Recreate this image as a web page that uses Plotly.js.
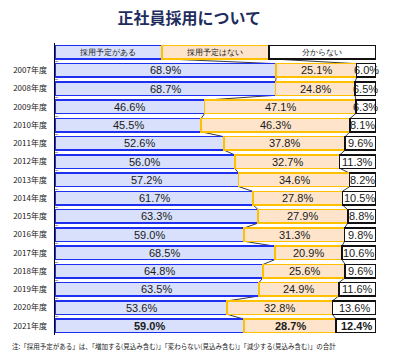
<!DOCTYPE html>
<html><head><meta charset="utf-8">
<script src="https://cdn.plot.ly/plotly-3.0.1.min.js"></script>
<style>html,body{margin:0;padding:0;background:#fff}</style>
</head><body><div id="chart" style="width:396px;height:359px"></div>
<script>
const categories = ['凡例','2007年度','2008年度','2009年度','2010年度','2011年度','2012年度','2013年度','2014年度','2015年度','2016年度','2017年度','2018年度','2019年度','2020年度','2021年度'];
const tickLabels = ['','2007年度','2008年度','2009年度','2010年度','2011年度','2012年度','2013年度','2014年度','2015年度','2016年度','2017年度','2018年度','2019年度','2020年度','2021年度'];
const seriesNames = ['採用予定がある','採用予定はない','分からない'];
const planned    = [33.33, 68.9, 68.7, 46.6, 45.5, 52.6, 56.0, 57.2, 61.7, 63.3, 59.0, 68.5, 64.8, 63.5, 53.6, 59.0];
const notPlanned = [33.33, 25.1, 24.8, 47.1, 46.3, 37.8, 32.7, 34.6, 27.8, 27.9, 31.3, 20.9, 25.6, 24.9, 32.8, 28.7];
const unknown    = [33.34, 6.0, 6.5, 6.3, 8.1, 9.6, 11.3, 8.2, 10.5, 8.8, 9.8, 10.6, 9.6, 11.6, 13.6, 12.4];
const note = '注:「採用予定がある」は、「増加する(見込み含む)」「変わらない(見込み含む)」「減少する(見込み含む)」の合計';
const titleText = '正社員採用について';

const series = [planned, notPlanned, unknown];
const fills = ['#D8E0FB', '#FDE4CB', '#FFFFFF'];
const borders = ['#1F2FF0', '#FFC000', '#111111'];
const bargap = 0.27;
const last = categories.length - 1;

const traces = series.map((vals, k) => ({
  type: 'bar', orientation: 'h', name: seriesNames[k],
  y: categories, x: vals,
  marker: {color: fills[k], line: {color: borders[k], width: 1.5}},
  hoverinfo: 'skip'
}));

// normalised cumulative boundaries (100% stacked)
const totals = categories.map((c, i) => planned[i] + notPlanned[i] + unknown[i]);
const b1 = planned.map((v, i) => 100 * v / totals[i]);
const b2 = planned.map((v, i) => 100 * (v + notPlanned[i]) / totals[i]);
const starts = [categories.map(() => 0), b1, b2];
const ends = [b1, b2, categories.map(() => 100)];

// series lines connecting segment boundaries of neighbouring bars
const h = (1 - bargap) / 2;
const shapes = [];
[b1, b2].forEach(b => {
  for (let i = 0; i < categories.length - 1; i++) {
    shapes.push({type: 'line', xref: 'x', yref: 'y', x0: b[i], y0: i + h, x1: b[i + 1], y1: i + 1 - h,
      line: {color: '#3a3a3a', width: 1}, layer: 'below'});
  }
});

// value labels at segment centres
const annotations = [];
series.forEach((vals, k) => {
  vals.forEach((v, i) => {
    let s;
    if (i === 0) s = seriesNames[k];
    else { s = v.toFixed(1) + '%'; if (i === last) s = '<b>' + s + '</b>'; }
    annotations.push({text: s, xref: 'x', yref: 'y', x: (starts[k][i] + ends[k][i]) / 2, y: categories[i],
      xanchor: 'center', yanchor: 'middle', showarrow: false,
      font: {family: 'Liberation Sans, Arial, sans-serif', size: i === 0 ? 8 : 11, color: '#1a1a1a'}});
  });
});
annotations.push({text: note, xref: 'paper', yref: 'paper', x: -45 / 321, xanchor: 'left',
  y: -11 / 292, yanchor: 'middle', showarrow: false,
  font: {family: 'Noto Sans CJK JP', size: 6.5, color: '#222'}});

const layout = {
  width: 396, height: 359,
  margin: {l: 55, r: 20, t: 43, b: 24},
  paper_bgcolor: '#fff', plot_bgcolor: '#fff',
  barmode: 'stack', barnorm: 'percent', bargap: bargap,
  showlegend: false,
  title: {text: titleText, x: 0.478, xanchor: 'center', y: 0.95, yanchor: 'middle',
    font: {family: 'Noto Sans CJK JP', size: 16, color: '#1F2D5E', weight: 'bold'}},
  xaxis: {range: [0, 100], visible: false, fixedrange: true},
  yaxis: {type: 'category', autorange: 'reversed', categoryorder: 'array', categoryarray: categories,
    tickmode: 'array', tickvals: categories, ticktext: tickLabels,
    showline: true, linecolor: '#000', linewidth: 1.5,
    ticks: 'inside', ticklen: 3, tickcolor: '#999', tickson: 'boundaries', ticklabelstandoff: 5,
    tickfont: {family: 'Noto Sans CJK JP', size: 8, color: '#222'},
    showgrid: false, zeroline: false, fixedrange: true},
  shapes: shapes,
  annotations: annotations
};

Plotly.newPlot('chart', traces, layout, {displayModeBar: false, staticPlot: true});
</script></body></html>
